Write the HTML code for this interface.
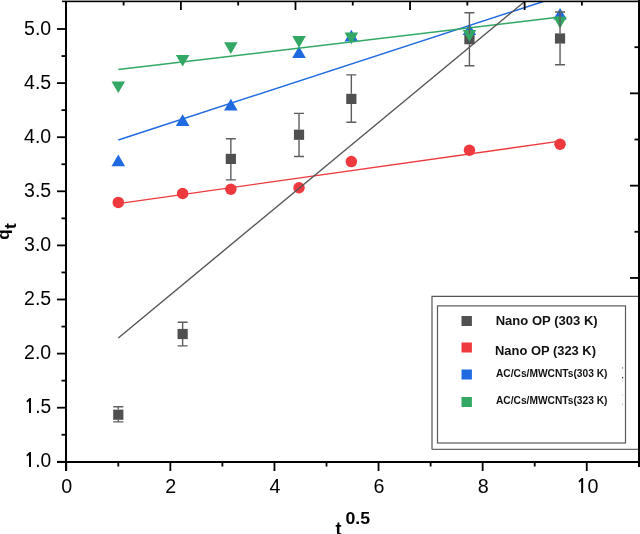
<!DOCTYPE html><html><head><meta charset="utf-8"><style>html,body{margin:0;padding:0;background:#fff;}svg{display:block;}text{font-family:"Liberation Sans",Arial,sans-serif;}</style></head><body>
<svg width="640" height="534" viewBox="0 0 640 534">
<rect width="640" height="534" fill="#fff"/>
<path d="M432 449.4V296.3H640" fill="none" stroke="#555" stroke-width="1.2"/>
<path d="M432 449.4H640" fill="none" stroke="#666" stroke-width="1.1"/>
<rect x="437.5" y="305.9" width="188" height="137.1" fill="none" stroke="#5a5a5a" stroke-width="1.2"/>
<rect x="113.20" y="409.60" width="10.2" height="10.2" fill="#505050"/>
<rect x="177.54" y="328.90" width="10.2" height="10.2" fill="#505050"/>
<rect x="225.75" y="153.80" width="10.2" height="10.2" fill="#505050"/>
<rect x="293.92" y="129.65" width="10.2" height="10.2" fill="#505050"/>
<rect x="346.24" y="93.80" width="10.2" height="10.2" fill="#505050"/>
<rect x="464.33" y="34.10" width="10.2" height="10.2" fill="#505050"/>
<rect x="554.94" y="33.40" width="10.2" height="10.2" fill="#505050"/>
<circle cx="118.30" cy="202.40" r="5.75" fill="#ee3a3e"/>
<circle cx="182.64" cy="193.50" r="5.75" fill="#ee3a3e"/>
<circle cx="230.85" cy="189.20" r="5.75" fill="#ee3a3e"/>
<circle cx="299.02" cy="187.80" r="5.75" fill="#ee3a3e"/>
<circle cx="351.34" cy="161.60" r="5.75" fill="#ee3a3e"/>
<circle cx="469.43" cy="150.30" r="5.75" fill="#ee3a3e"/>
<circle cx="560.04" cy="144.30" r="5.75" fill="#ee3a3e"/>
<path d="M118.30 154.60L125.10 166.30L111.50 166.30Z" fill="#1f6ae0"/>
<path d="M182.64 114.30L189.44 126.00L175.84 126.00Z" fill="#1f6ae0"/>
<path d="M230.85 98.70L237.65 110.40L224.05 110.40Z" fill="#1f6ae0"/>
<path d="M299.02 46.20L305.82 57.90L292.22 57.90Z" fill="#1f6ae0"/>
<path d="M351.34 29.80L358.14 41.50L344.54 41.50Z" fill="#1f6ae0"/>
<path d="M469.43 23.40L476.23 35.10L462.63 35.10Z" fill="#1f6ae0"/>
<path d="M560.04 7.90L566.84 19.60L553.24 19.60Z" fill="#1f6ae0"/>
<path d="M111.50 81.40L125.10 81.40L118.30 93.10Z" fill="#33a865"/>
<path d="M175.84 54.90L189.44 54.90L182.64 66.60Z" fill="#33a865"/>
<path d="M224.05 42.20L237.65 42.20L230.85 53.90Z" fill="#33a865"/>
<path d="M292.22 36.00L305.82 36.00L299.02 47.70Z" fill="#33a865"/>
<path d="M344.54 32.50L358.14 32.50L351.34 44.20Z" fill="#33a865"/>
<path d="M462.63 30.00L476.23 30.00L469.43 41.70Z" fill="#33a865"/>
<path d="M553.24 16.70L566.84 16.70L560.04 28.40Z" fill="#33a865"/>
<line x1="118.30" y1="203.59" x2="560.04" y2="141.18" stroke="#ee3a3e" stroke-width="1.4"/>
<line x1="118.30" y1="139.96" x2="543.28" y2="1.50" stroke="#1f6ae0" stroke-width="1.4"/>
<line x1="118.30" y1="69.57" x2="560.04" y2="17.05" stroke="#33a865" stroke-width="1.4"/>
<line x1="118.30" y1="337.96" x2="524.65" y2="1.50" stroke="#555555" stroke-width="1.4"/>
<path d="M118.30 406.70V409.60M118.30 419.80V421.90M113.30 406.70H123.30M113.30 421.90H123.30" stroke="#5e5e5e" stroke-width="1.4" fill="none"/>
<path d="M182.64 322.30V328.90M182.64 339.10V345.90M177.64 322.30H187.64M177.64 345.90H187.64" stroke="#5e5e5e" stroke-width="1.4" fill="none"/>
<path d="M230.85 138.80V153.80M230.85 164.00V179.90M225.85 138.80H235.85M225.85 179.90H235.85" stroke="#5e5e5e" stroke-width="1.4" fill="none"/>
<path d="M299.02 113.40V129.65M299.02 139.85V156.50M294.02 113.40H304.02M294.02 156.50H304.02" stroke="#5e5e5e" stroke-width="1.4" fill="none"/>
<path d="M351.34 74.90V93.80M351.34 104.00V122.20M346.34 74.90H356.34M346.34 122.20H356.34" stroke="#5e5e5e" stroke-width="1.4" fill="none"/>
<path d="M469.43 12.70V34.10M469.43 44.30V65.80M464.43 12.70H474.43M464.43 65.80H474.43" stroke="#5e5e5e" stroke-width="1.4" fill="none"/>
<path d="M560.04 12.00V33.40M560.04 43.60V64.70M555.04 12.00H565.04M555.04 64.70H565.04" stroke="#5e5e5e" stroke-width="1.4" fill="none"/>
<rect x="62" y="0" width="578" height="1" fill="#999"/>
<rect x="62" y="1" width="578" height="1.2" fill="#000"/>
<rect x="65" y="1" width="2" height="470" fill="#000"/>
<rect x="57" y="461" width="583" height="2" fill="#000"/>
<rect x="638" y="0" width="2" height="467" fill="#000"/>
<rect x="57" y="460.90" width="9" height="1.8" fill="#000"/>
<rect x="61.5" y="433.85" width="5" height="1.8" fill="#000"/>
<rect x="57" y="406.80" width="9" height="1.8" fill="#000"/>
<rect x="61.5" y="379.75" width="5" height="1.8" fill="#000"/>
<rect x="57" y="352.70" width="9" height="1.8" fill="#000"/>
<rect x="61.5" y="325.65" width="5" height="1.8" fill="#000"/>
<rect x="57" y="298.60" width="9" height="1.8" fill="#000"/>
<rect x="61.5" y="271.55" width="5" height="1.8" fill="#000"/>
<rect x="57" y="244.50" width="9" height="1.8" fill="#000"/>
<rect x="61.5" y="217.45" width="5" height="1.8" fill="#000"/>
<rect x="57" y="190.40" width="9" height="1.8" fill="#000"/>
<rect x="61.5" y="163.35" width="5" height="1.8" fill="#000"/>
<rect x="57" y="136.30" width="9" height="1.8" fill="#000"/>
<rect x="61.5" y="109.25" width="5" height="1.8" fill="#000"/>
<rect x="57" y="82.20" width="9" height="1.8" fill="#000"/>
<rect x="61.5" y="55.15" width="5" height="1.8" fill="#000"/>
<rect x="57" y="28.10" width="9" height="1.8" fill="#000"/>
<rect x="65.35" y="462" width="1.8" height="9" fill="#000"/>
<rect x="117.40" y="462" width="1.8" height="4.5" fill="#000"/>
<rect x="169.45" y="462" width="1.8" height="9" fill="#000"/>
<rect x="221.50" y="462" width="1.8" height="4.5" fill="#000"/>
<rect x="273.55" y="462" width="1.8" height="9" fill="#000"/>
<rect x="325.60" y="462" width="1.8" height="4.5" fill="#000"/>
<rect x="377.65" y="462" width="1.8" height="9" fill="#000"/>
<rect x="429.70" y="462" width="1.8" height="4.5" fill="#000"/>
<rect x="481.75" y="462" width="1.8" height="9" fill="#000"/>
<rect x="533.80" y="462" width="1.8" height="4.5" fill="#000"/>
<rect x="585.85" y="462" width="1.8" height="9" fill="#000"/>
<rect x="122.70" y="1" width="1.8" height="4.5" fill="#000"/>
<rect x="179.99" y="1" width="1.8" height="9" fill="#000"/>
<rect x="237.28" y="1" width="1.8" height="4.5" fill="#000"/>
<rect x="294.57" y="1" width="1.8" height="9" fill="#000"/>
<rect x="351.86" y="1" width="1.8" height="4.5" fill="#000"/>
<rect x="409.15" y="1" width="1.8" height="9" fill="#000"/>
<rect x="466.44" y="1" width="1.8" height="4.5" fill="#000"/>
<rect x="523.73" y="1" width="1.8" height="9" fill="#000"/>
<rect x="581.02" y="1" width="1.8" height="4.5" fill="#000"/>
<rect x="634.50" y="46.30" width="4.5" height="1.8" fill="#000"/>
<rect x="630.00" y="92.45" width="9" height="1.8" fill="#000"/>
<rect x="634.50" y="138.60" width="4.5" height="1.8" fill="#000"/>
<rect x="630.00" y="184.75" width="9" height="1.8" fill="#000"/>
<rect x="634.50" y="230.90" width="4.5" height="1.8" fill="#000"/>
<rect x="630.00" y="277.05" width="9" height="1.8" fill="#000"/>
<text x="51.2" y="467.40" font-size="19.7" text-anchor="end" textLength="27.2" lengthAdjust="spacingAndGlyphs"><tspan font-family="NanumGothic" font-weight="bold" font-size="18.9">1</tspan>.0</text>
<text x="51.2" y="413.30" font-size="19.7" text-anchor="end" textLength="27.2" lengthAdjust="spacingAndGlyphs"><tspan font-family="NanumGothic" font-weight="bold" font-size="18.9">1</tspan>.5</text>
<text x="51.2" y="359.20" font-size="19.7" text-anchor="end" textLength="27.2" lengthAdjust="spacingAndGlyphs">2.0</text>
<text x="51.2" y="305.10" font-size="19.7" text-anchor="end" textLength="27.2" lengthAdjust="spacingAndGlyphs">2.5</text>
<text x="51.2" y="251.00" font-size="19.7" text-anchor="end" textLength="27.2" lengthAdjust="spacingAndGlyphs">3.0</text>
<text x="51.2" y="196.90" font-size="19.7" text-anchor="end" textLength="27.2" lengthAdjust="spacingAndGlyphs">3.5</text>
<text x="51.2" y="142.80" font-size="19.7" text-anchor="end" textLength="27.2" lengthAdjust="spacingAndGlyphs">4.0</text>
<text x="51.2" y="88.70" font-size="19.7" text-anchor="end" textLength="27.2" lengthAdjust="spacingAndGlyphs">4.5</text>
<text x="51.2" y="34.60" font-size="19.7" text-anchor="end" textLength="27.2" lengthAdjust="spacingAndGlyphs">5.0</text>
<text x="66.75" y="492.8" font-size="19.7" text-anchor="middle">0</text>
<text x="170.85" y="492.8" font-size="19.7" text-anchor="middle">2</text>
<text x="274.95" y="492.8" font-size="19.7" text-anchor="middle">4</text>
<text x="379.05" y="492.8" font-size="19.7" text-anchor="middle">6</text>
<text x="483.15" y="492.8" font-size="19.7" text-anchor="middle">8</text>
<text x="587.25" y="492.8" font-size="19.7" text-anchor="middle"><tspan font-family="NanumGothic" font-weight="bold" font-size="18.9">1</tspan>0</text>
<text transform="translate(8.6,239.8) rotate(-90)" font-size="17" font-weight="bold">q<tspan font-size="17.4" dx="0.3" dy="7.0">t</tspan></text>
<text x="335.4" y="535" font-size="18" font-weight="bold">t</text>
<text x="345.4" y="524.1" font-size="16.6" font-weight="bold" textLength="24.6" lengthAdjust="spacingAndGlyphs">0.5</text>
<rect x="461.5" y="316" width="10.4" height="10" fill="#505050"/>
<text x="495.7" y="324.5" font-size="12.6" font-weight="bold" textLength="102" lengthAdjust="spacingAndGlyphs" fill="#111">Nano OP (303 K)</text>
<rect x="461.5" y="342.5" width="10.4" height="10" fill="#ee3a3e"/>
<text x="495" y="355" font-size="12.6" font-weight="bold" textLength="101" lengthAdjust="spacingAndGlyphs" fill="#111">Nano OP (323 K)</text>
<rect x="461.5" y="369.5" width="10.4" height="10" fill="#1f6ae0"/>
<text x="496" y="377.2" font-size="10.2" font-weight="bold" textLength="111.5" lengthAdjust="spacingAndGlyphs" fill="#111">AC/Cs/MWCNTs(303 K)</text>
<rect x="461.5" y="397" width="10.4" height="10" fill="#33a865"/>
<text x="496" y="404" font-size="10.2" font-weight="bold" textLength="111.5" lengthAdjust="spacingAndGlyphs" fill="#111">AC/Cs/MWCNTs(323 K)</text>
<rect x="622.1" y="367.2" width="1" height="1.4" fill="#6a7085"/>
<rect x="622.1" y="376.9" width="1.1" height="1.4" fill="#222"/>
<rect x="622.1" y="394.6" width="1" height="1" fill="#b8bcc8"/>
<rect x="622.1" y="403.7" width="1" height="1" fill="#9a9eaa"/>
</svg></body></html>
